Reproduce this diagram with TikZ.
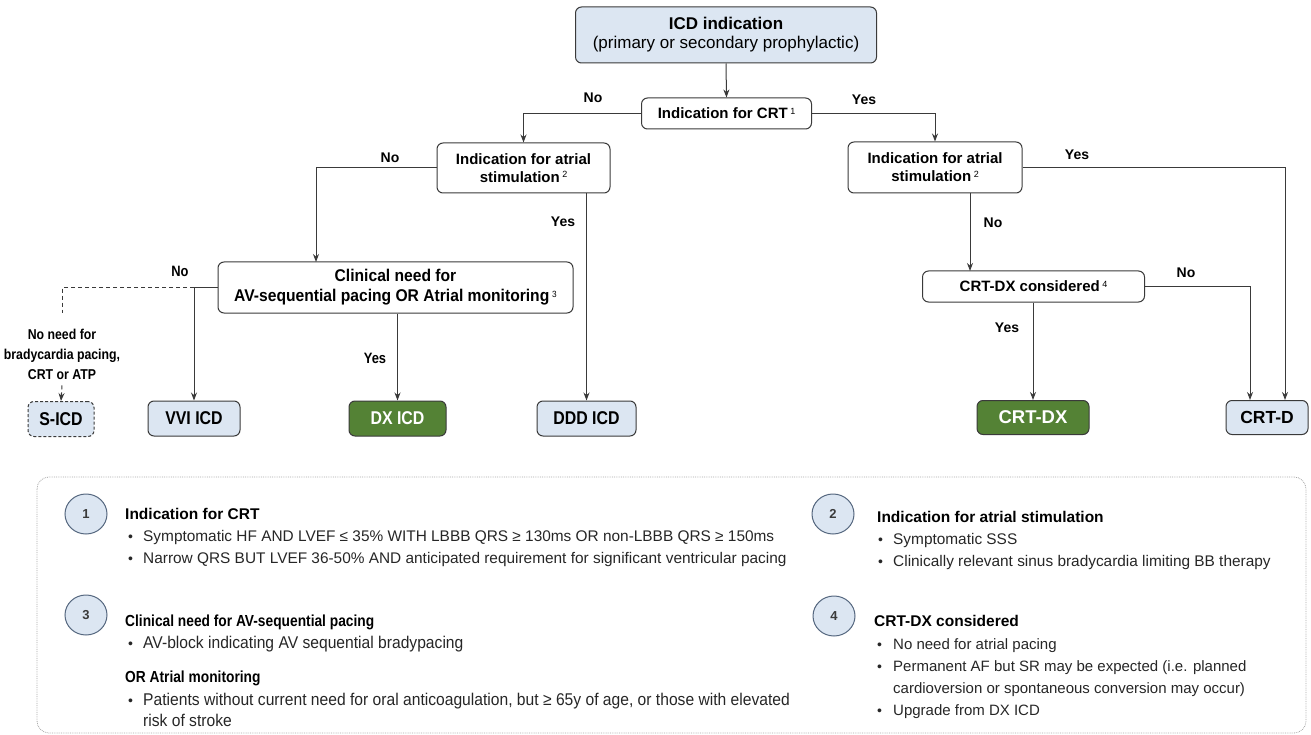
\documentclass[tikz,border=0pt]{standalone}
\usepackage{fontspec}
\setmainfont{Liberation Sans}
\newfontfamily\narrowfont[FakeStretch=0.86]{Liberation Sans}
\newfontfamily\semifont[FakeStretch=0.92]{Liberation Sans}
\usetikzlibrary{arrows.meta,shapes.geometric,calc}
\definecolor{lb}{HTML}{DCE6F2}
\definecolor{bd}{HTML}{3A3A3A}
\definecolor{gr}{HTML}{548235}
\definecolor{cb}{HTML}{55677F}
\newcommand\fsz[2]{\fontsize{#1}{#2}\selectfont}
\newcommand\sups[1]{\,{\fsz{9}{9}\mdseries\raisebox{4.5pt}{#1}}}
\tikzset{
  box/.style={draw=bd, line width=1pt, rounded corners=6pt, fill=white, align=center, inner sep=0pt, font=\fsz{15}{18}\bfseries},
  bluebox/.style={box, fill=lb},
  greenbox/.style={box, fill=gr, text=white},
  arr/.style={draw=bd, line width=1pt, -{Stealth[length=8pt,width=6pt]}},
  ln/.style={draw=bd, line width=1pt},
  dln/.style={draw=bd, line width=1pt, dash pattern=on 4pt off 3pt},
  lbl/.style={font=\fsz{14}{16}\bfseries, inner sep=0pt},
  nlbl/.style={font=\narrowfont\fsz{15}{16}\bfseries, inner sep=0pt},
  num/.style={ellipse, draw=cb, line width=1pt, fill=lb, minimum width=42, minimum height=40, inner sep=0pt, font=\fsz{13}{14}\bfseries, text=bd},
  hd/.style={anchor=base west, inner sep=0pt, font=\fsz{15.5}{17}\bfseries},
  tx/.style={anchor=base west, inner sep=0pt, font=\fsz{15.4}{17}, text=black!85},
  nhd/.style={anchor=base west, inner sep=0pt, font=\narrowfont\fsz{16}{17}\bfseries},
  ntx/.style={anchor=base west, inner sep=0pt, font=\semifont\fsz{17}{17}, text=black!85},
  bul/.style={anchor=base west, inner sep=0pt, font=\fsz{14}{17}, text=black!85},
  endbox/.style={minimum width=#1, minimum height=35, font=\narrowfont\fsz{18.5}{20}\bfseries},
}
\begin{document}
\begin{tikzpicture}[x=1pt,y=-1pt]
\useasboundingbox (0,0) rectangle (1311,735);

% --- main flow boxes
\node[bluebox, minimum width=301, minimum height=56] (icd) at (726,35)
  {{\fsz{17}{19}\bfseries ICD indication}\\[1pt]{\fsz{17}{19}\mdseries (primary or secondary prophylactic)}};
\node[box, minimum width=170, minimum height=31] (crt) at (726.5,113.5) {Indication for CRT\sups{1}};
\node[box, minimum width=173, minimum height=50] (atrL) at (523.5,168) {Indication for atrial\\stimulation\sups{2}};
\node[box, minimum width=174, minimum height=51] (atrR) at (935,167.5) {Indication for atrial\\stimulation\sups{2}};
\node[box, minimum width=355, minimum height=51, font=\semifont\fsz{17}{20}\bfseries] (clin) at (395.5,287.5)
  {Clinical need for\\AV-sequential pacing OR Atrial monitoring\sups{3}};
\node[box, minimum width=222, minimum height=31] (cons) at (1033.5,286.5) {CRT-DX considered\sups{4}};

\node[bluebox, dash pattern=on 3pt off 2pt, endbox=66] (sicd) at (61,419) {S-ICD};
\node[bluebox, endbox=92] (vvi) at (194,418.5) {VVI ICD};
\node[greenbox, endbox=97] (dx) at (397.5,418.5) {DX ICD};
\node[bluebox, endbox=99] (ddd) at (586.5,418.5) {DDD ICD};
\node[greenbox, minimum width=112, minimum height=34, font=\fsz{18.5}{20}\bfseries] (crtdx) at (1033,417.5) {CRT-DX};
\node[bluebox, minimum width=82, minimum height=34, font=\fsz{17.5}{20}\bfseries] (crtd) at (1267,417.5) {CRT-D};

\node[nlbl, align=center, font=\narrowfont\fsz{14.3}{20}\bfseries] (noneed) at (62,354) {No need for\\bradycardia pacing,\\CRT or ATP};

% --- helper coordinates
\coordinate (clinIn) at (316,262);
\coordinate (consIn) at (970,271);
\coordinate (atrRout) at (970,193);
\coordinate (crtdY) at (1285,400);
\coordinate (crtdN) at (1250,400);
\coordinate (split) at (194,287.5);
\coordinate (dcorner) at (62,287.5);
\coordinate (dend) at (62,313);

% --- connectors
\draw[arr] (icd.south) -- (crt.north);
\draw[arr] (crt.west) -| (atrL.north);
\draw[arr] (crt.east) -| (atrR.north);
\draw[arr] (atrL.west) -| (clinIn);
\draw[arr] (atrL.south -| ddd.north) -- (ddd.north);
\draw[arr] (clin.west) -| (vvi.north);
\draw[dln] (split) -- (dcorner) -- (dend);
\draw[dln, -{Stealth[length=8pt,width=6pt]}] (noneed.south) ++(0,6) -- (sicd.north);
\draw[arr] (clin.south -| dx.north) -- (dx.north);
\draw[arr] (atrR.east) -| (crtdY);
\draw[arr] (atrRout) -- (consIn);
\draw[arr] (cons.east) -| (crtdN);
\draw[arr] (cons.south -| crtdx.north) -- (crtdx.north);

% --- branch labels
\node[lbl] (l1) at (593,98) {No};
\node[lbl] (l2) at (864,100) {Yes};
\node[lbl] (l3) at (390,158) {No};
\node[lbl] (l4) at (563,222) {Yes};
\node[nlbl] (l5) at (180,271) {No};
\node[nlbl] (l6) at (375,358) {Yes};
\node[lbl] (l7) at (1077,155) {Yes};
\node[lbl] (l8) at (993,223) {No};
\node[lbl] (l9) at (1186,273) {No};
\node[lbl] (l10) at (1007,328) {Yes};

% --- legend
\draw[gray!70, line width=0.8pt, densely dotted, rounded corners=12pt] (37,477) rectangle (1306,733);

\node[num] (n1) at (86,514) {1};
\node[num] (n2) at (833,514) {2};
\node[num] (n3) at (86,615) {3};
\node[num] (n4) at (834,616) {4};

\node[hd] at (125,519) {Indication for CRT};
\node[bul] at (128,541) {•};
\node[tx] at (143,541) {Symptomatic HF AND LVEF ≤ 35\% WITH LBBB QRS ≥ 130ms OR non-LBBB QRS ≥ 150ms};
\node[bul] at (128,563) {•};
\node[tx] at (143,563) {Narrow QRS BUT LVEF 36-50\% AND anticipated requirement for significant ventricular pacing};

\node[hd] at (877,522) {Indication for atrial stimulation};
\node[bul] at (878,544) {•};
\node[tx] at (893,544) {Symptomatic SSS};
\node[bul] at (878,566) {•};
\node[tx] at (893,566) {Clinically relevant sinus bradycardia limiting BB therapy};

\node[nhd] at (125,626) {Clinical need for AV-sequential pacing};
\node[bul] at (128,648) {•};
\node[ntx] at (143,648) {AV-block indicating AV sequential bradypacing};
\node[nhd] at (125,682) {OR Atrial monitoring};
\node[bul] at (128,705) {•};
\node[ntx] at (143,705) {Patients without current need for oral anticoagulation, but ≥ 65y of age, or those with elevated};
\node[ntx] at (143,726) {risk of stroke};

\node[hd] at (874,626) {CRT-DX considered};
\node[bul] at (877,649) {•};
\node[tx, font=\fsz{15}{17}] at (893,649) {No need for atrial pacing};
\node[bul] at (877,671) {•};
\node[tx, font=\fsz{15}{17}] at (893,671) {Permanent AF but SR may be expected (i.e. planned};
\node[tx, font=\fsz{15}{17}] at (893,693) {cardioversion or spontaneous conversion may occur)};
\node[bul] at (877,715) {•};
\node[tx, font=\fsz{15}{17}] at (893,715) {Upgrade from DX ICD};
\end{tikzpicture}
\end{document}
